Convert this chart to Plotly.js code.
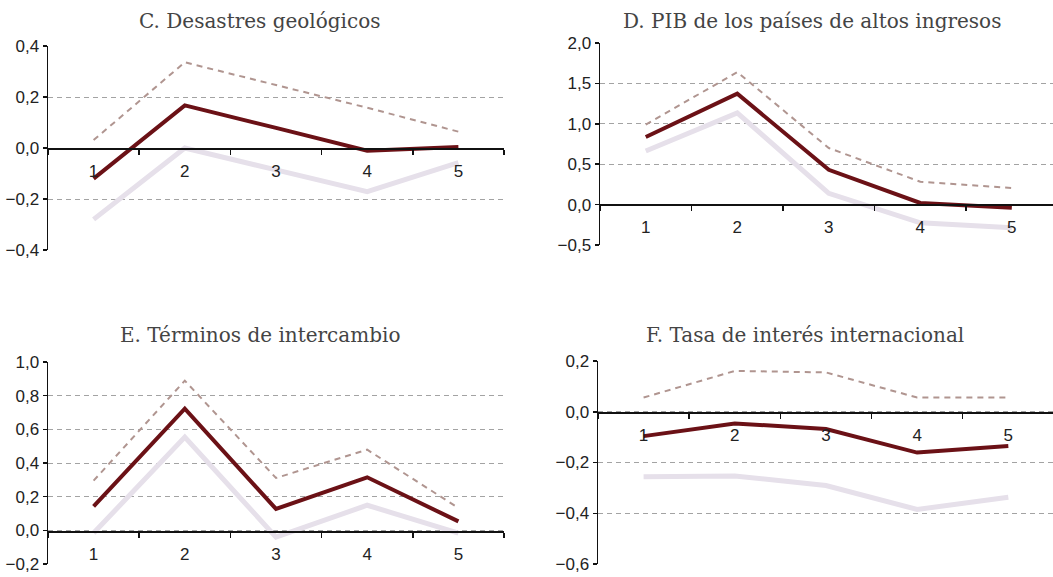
<!DOCTYPE html>
<html>
<head>
<meta charset="utf-8">
<script src="https://cdn.plot.ly/plotly-3.0.1.min.js"></script>
<style>html,body{margin:0;padding:0;background:#fff;}#chart{width:1053px;height:577px;}</style>
</head>
<body>
<div id="chart"></div>
<script>
// Data
const categories = ['1', '2', '3', '4', '5'];

const titleC = 'C. Desastres geológicos';
const medianC = [-0.12, 0.167, 0.079, -0.011, 0.004];
const lowerC  = [-0.28, 0.0, -0.086, -0.171, -0.057];
const upperC  = [0.031, 0.336, 0.247, 0.158, 0.064];
const yTicksC = [-0.4, -0.2, 0.0, 0.2, 0.4];

const titleD = 'D. PIB de los países de altos ingresos';
const medianD = [0.836, 1.373, 0.43, 0.02, -0.04];
const lowerD  = [0.664, 1.135, 0.14, -0.225, -0.287];
const upperD  = [0.99, 1.64, 0.70, 0.283, 0.205];
const yTicksD = [-0.5, 0.0, 0.5, 1.0, 1.5, 2.0];

const titleE = 'E. Términos de intercambio';
const medianE = [0.143, 0.723, 0.127, 0.315, 0.053];
const lowerE  = [-0.016, 0.554, -0.04, 0.149, -0.016];
const upperE  = [0.295, 0.889, 0.311, 0.479, 0.133];
const yTicksE = [-0.2, 0.0, 0.2, 0.4, 0.6, 0.8, 1.0];

const titleF = 'F. Tasa de interés internacional';
const medianF = [-0.096, -0.046, -0.068, -0.161, -0.135];
const lowerF  = [-0.256, -0.253, -0.291, -0.385, -0.337];
const upperF  = [0.056, 0.161, 0.155, 0.056, 0.056];
const yTicksF = [-0.6, -0.4, -0.2, 0.0, 0.2];

// Styles
const W = 1053, H = 577;
const colDark = '#6b1116';
const colLight = '#e6e0ea';
const colDash = '#b09590';
const titleFont = {family: 'DejaVu Serif, serif', size: 20, color: '#444'};

const px = v => v / W;
const py = v => (H - v) / H;

const panels = [
  {title: titleC, med: medianC, lo: lowerC, up: upperC, yt: yTicksC,
   xd: [48, 504], yd: [250, 46], yr: [-0.4, 0.4], zeroY: 148, xr: [-0.5, 4.5], tx: 260, ty: 21},
  {title: titleD, med: medianD, lo: lowerD, up: upperD, yt: yTicksD,
   xd: [600, 1053], yd: [245, 43], yr: [-0.5, 2.0], zeroY: 204, xr: [-0.5, 4.45], tx: 812, ty: 21},
  {title: titleE, med: medianE, lo: lowerE, up: upperE, yt: yTicksE,
   xd: [48, 504], yd: [564, 362], yr: [-0.2, 1.0], zeroY: 531, xr: [-0.5, 4.5], tx: 260, ty: 335},
  {title: titleF, med: medianF, lo: lowerF, up: upperF, yt: yTicksF,
   xd: [598, 1053], yd: [564, 361], yr: [-0.6, 0.2], zeroY: 412, xr: [-0.5, 4.49], tx: 805, ty: 335}
];

const traces = [];
const layout = {
  width: W, height: H,
  margin: {l: 0, r: 0, t: 0, b: 0},
  paper_bgcolor: '#fff', plot_bgcolor: 'rgba(0,0,0,0)',
  showlegend: false,
  separators: ', ',
  font: {family: 'Liberation Sans, Arial, sans-serif', size: 17, color: '#222'},
  annotations: []
};

panels.forEach((p, i) => {
  const n = i + 1;
  const xa = 'x' + (n === 1 ? '' : n), ya = 'y' + (n === 1 ? '' : n);
  const xk = 'xaxis' + (n === 1 ? '' : n), yk = 'yaxis' + (n === 1 ? '' : n);
  traces.push({x: categories, y: p.lo, xaxis: xa, yaxis: ya, type: 'scatter', mode: 'lines',
    line: {color: colLight, width: 5}, hoverinfo: 'skip'});
  traces.push({x: categories, y: p.up, xaxis: xa, yaxis: ya, type: 'scatter', mode: 'lines',
    line: {color: colDash, width: 2, dash: '6px,5px'}, hoverinfo: 'skip'});
  traces.push({x: categories, y: p.med, xaxis: xa, yaxis: ya, type: 'scatter', mode: 'lines',
    line: {color: colDark, width: 4}, hoverinfo: 'skip'});
  layout[xk] = {
    type: 'category', domain: [px(p.xd[0]), px(p.xd[1])], range: p.xr,
    anchor: 'free', position: py(p.zeroY), side: 'bottom',
    showline: true, linecolor: '#111', linewidth: 1.5,
    ticks: 'outside', tickson: 'boundaries', ticklen: 5, tickcolor: '#111', tickwidth: 1.5,
    ticklabelstandoff: 7,
    showgrid: false, zeroline: false,
    tickfont: {family: 'Liberation Sans, Arial, sans-serif', size: 17, color: '#222'},
    fixedrange: true
  };
  layout[yk] = {
    domain: [py(p.yd[0]), py(p.yd[1])], range: p.yr, anchor: xa,
    showline: true, linecolor: '#111', linewidth: 1.5,
    ticks: 'outside', ticklen: 4, tickcolor: '#111', tickwidth: 1.5,
    tickvals: p.yt, tickformat: '.1f',
    tickfont: {family: 'Liberation Sans, Arial, sans-serif', size: 17, color: '#222'},
    showgrid: true, gridcolor: '#a3a3a3', gridwidth: 1, griddash: '5px,4px',
    zeroline: false, fixedrange: true
  };
  layout.annotations.push({text: p.title, xref: 'paper', yref: 'paper', x: px(p.tx), y: py(p.ty),
    xanchor: 'center', yanchor: 'middle', showarrow: false, font: titleFont});
});

Plotly.newPlot('chart', traces, layout, {displayModeBar: false, staticPlot: true});
</script>
</body>
</html>
